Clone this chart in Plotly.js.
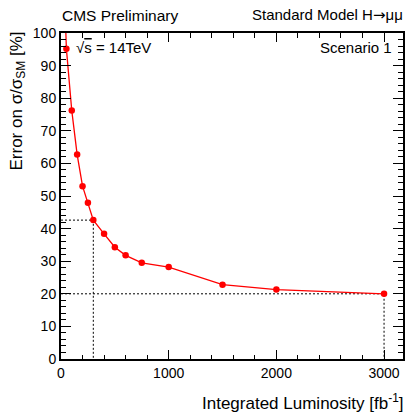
<!DOCTYPE html>
<html>
<head>
<meta charset="utf-8">
<script src="https://cdn.plot.ly/plotly-3.0.1.min.js"></script>
<style>html,body{margin:0;padding:0;background:#fff;}#plot{width:408px;height:412px;}</style>
</head>
<body>
<div id="plot"></div>
<script>
// Data
const lumi = [25, 50, 100, 150, 200, 250, 300, 400, 500, 600, 750, 1000, 1500, 2000, 3000];
const errorPct = [120, 95.2, 76.2, 62.7, 53.0, 47.9, 42.6, 38.4, 34.3, 31.8, 29.5, 28.2, 22.8, 21.3, 20.0];
// Reference points marked with dotted guide lines
const refIdx = [6, 14];
const xTickVals = [0, 1000, 2000, 3000];
const yTickVals = [0, 10, 20, 30, 40, 50, 60, 70, 80, 90, 100];

const L = 61, R = 5, T = 33, B = 53, W = 408, H = 412;
const pw = W - L - R, ph = H - T - B;
const px = v => (v - L) / pw;
const py = v => (H - B - v) / ph;

const traces = [];
refIdx.forEach(i => {
  traces.push({
    x: [0, lumi[i], lumi[i]],
    y: [errorPct[i], errorPct[i], 0],
    mode: 'lines',
    line: {color: 'black', width: 1, dash: '2px,2px'},
    hoverinfo: 'skip', showlegend: false
  });
});
traces.push({
  x: lumi, y: errorPct, mode: 'lines+markers',
  line: {color: '#ff0000', width: 1.3},
  marker: {color: '#ff0000', size: 6.5, symbol: 'circle'},
  showlegend: false
});

const font = {family: 'Liberation Sans, Arial, Helvetica, sans-serif', color: 'black'};
const layout = {
  width: W, height: H,
  margin: {l: L, r: R, t: T, b: B, pad: 0},
  paper_bgcolor: 'white', plot_bgcolor: 'white',
  showlegend: false,
  font: Object.assign({size: 14}, font),
  xaxis: {
    range: [0, 3176], tickmode: 'array', tickvals: xTickVals,
    ticks: 'inside', ticklen: 9, tickwidth: 1, tickcolor: 'black',
    showline: true, linewidth: 2, linecolor: 'black', mirror: 'ticks',
    showgrid: false, zeroline: false,
    tickfont: Object.assign({size: 14}, font),
    minor: {dtick: 200, tick0: 0, ticks: 'inside', ticklen: 4.5, tickwidth: 1, tickcolor: 'black', showgrid: false}
  },
  yaxis: {
    range: [0, 100], tickmode: 'array', tickvals: yTickVals,
    ticks: 'inside', ticklen: 10, tickwidth: 1, tickcolor: 'black',
    showline: true, linewidth: 2, linecolor: 'black', mirror: 'ticks',
    showgrid: false, zeroline: false,
    tickfont: Object.assign({size: 14}, font),
    minor: {dtick: 2, tick0: 0, ticks: 'inside', ticklen: 5, tickwidth: 1, tickcolor: 'black', showgrid: false}
  },
  annotations: [
    {text: 'CMS Preliminary', xref: 'paper', yref: 'paper', x: px(60), y: py(15), xanchor: 'left', yanchor: 'middle', showarrow: false, font: Object.assign({size: 15.5}, font)},
    {text: 'Standard Model H<span style="font-family:DejaVu Sans">\u2192</span>\u03bc\u03bc', xref: 'paper', yref: 'paper', x: px(405), y: py(15), xanchor: 'right', yanchor: 'middle', showarrow: false, font: Object.assign({size: 15}, font)},
    {text: '\u221a<span style="text-decoration:overline">s</span> = 14TeV', xref: 'paper', yref: 'paper', x: px(74), y: py(48), xanchor: 'left', yanchor: 'middle', showarrow: false, font: Object.assign({size: 15}, font)},
    {text: 'Scenario 1', xref: 'paper', yref: 'paper', x: px(394), y: py(48), xanchor: 'right', yanchor: 'middle', showarrow: false, font: Object.assign({size: 15}, font)},
    {text: 'Integrated Luminosity [fb<sup>-1</sup>]', xref: 'paper', yref: 'paper', x: px(405), y: py(402), xanchor: 'right', yanchor: 'middle', showarrow: false, font: Object.assign({size: 17}, font)},
    {text: 'Error on \u03c3/\u03c3<sub>SM</sub> [%]', textangle: -90, xref: 'paper', yref: 'paper', x: px(17), y: py(30), xanchor: 'center', yanchor: 'top', showarrow: false, font: Object.assign({size: 17}, font)}
  ]
};
Plotly.newPlot('plot', traces, layout, {displayModeBar: false, staticPlot: true});
</script>
</body>
</html>
